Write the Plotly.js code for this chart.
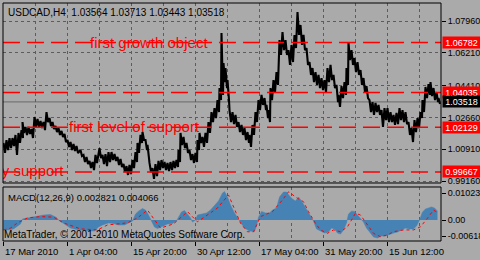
<!DOCTYPE html>
<html><head><meta charset="utf-8">
<script src="https://cdn.plot.ly/plotly-3.0.1.min.js"></script>
<style>html,body{margin:0;padding:0;background:#AAAAAA}#chart{width:480px;height:260px}</style>
</head><body><div id="chart"></div><script>
const symbolTitle = "USDCAD,H4  1.03564 1.03713 1.03443 1.03518";
const macdTitle = "MACD(12,26,9) 0.002821 0.004066";
const copyright = "MetaTrader, \u00A9 2001-2010 MetaQuotes Software Corp.";
const timeTickIdx = [0,64,128,192,256,320,384];
const timeTickLabels = ["17 Mar 2010","1 Apr 04:00","15 Apr 20:00","30 Apr 12:00","17 May 04:00","31 May 20:00","15 Jun 12:00"];
const priceTicks = [1.0796,1.0621,1.0441,1.0266,1.0091,0.9916];
const priceTickLabels = ["1.07960","1.06210","1.04410","1.02660","1.00910","0.99160"];
const levelValues = [1.06782,1.04035,1.02129,0.99667];
const levelLabels = ["1.06782","1.04035","1.02129","0.99667"];
const lastPrice = 1.03518;
const lastPriceLabel = "1.03518";
const macdTicks = [0.01023,0,-0.00618];
const macdTickLabels = ["0.01023","0.00","-0.00618"];

// H4 bars (bar index), high / low
const barIdx = [0,3,6,9,12,15,18,19,22,25,28,31,34,37,40,43,46,49,52,55,58,61,64,67,70,73,77,80,83,86,89,92,96,99,102,105,108,111,114,117,120,123,126,129,132,134,137,139,142,144,146,149,152,155,158,161,164,167,170,173,175,177,180,183,186,189,192,194,196,199,202,205,208,211,214,216,218,220,222,224,226,229,232,235,238,241,244,246,249,252,255,258,261,263,265,267,270,273,276,279,282,285,288,291,294,297,300,303,306,309,312,315,318,321,324,327,330,333,335,338,341,343,345,348,351,354,357,360,363,366,369,372,375,378,381,384,387,390,393,396,399,402,405,408,411,414,417,419,422,425,427,430,433,435];
const priceHigh = [1.0126,1.0142,1.0153,1.0153,1.0170,1.0181,1.0197,1.0241,1.0214,1.0214,
1.0203,1.0269,1.0258,1.0247,1.0241,1.0296,1.0263,1.0241,1.0219,1.0208,
1.0192,1.0175,1.0142,1.0131,1.0120,1.0109,1.0087,1.0060,1.0049,1.0027,
1.0021,1.0060,1.0098,1.0060,1.0065,1.0076,1.0076,1.0065,1.0049,1.0038,
1.0010,0.9999,1.0005,1.0032,1.0076,1.0126,1.0170,1.0186,1.0142,1.0115,
1.0016,0.9988,1.0010,1.0027,1.0032,1.0021,1.0016,1.0021,1.0027,1.0032,
1.0087,1.0181,1.0159,1.0126,1.0087,1.0065,1.0071,1.0142,1.0181,1.0159,
1.0181,1.0241,1.0296,1.0318,1.0362,1.0428,1.0731,1.0566,1.0538,1.0472,
1.0307,1.0296,1.0280,1.0241,1.0225,1.0208,1.0186,1.0170,1.0225,1.0296,
1.0362,1.0390,1.0373,1.0335,1.0307,1.0428,1.0472,1.0516,1.0692,1.0736,
1.0692,1.0637,1.0665,1.0720,1.0846,1.0775,1.0720,1.0648,1.0571,1.0538,
1.0516,1.0500,1.0483,1.0472,1.0538,1.0555,1.0500,1.0445,1.0390,1.0439,
1.0461,1.0538,1.0676,1.0637,1.0593,1.0571,1.0527,1.0483,1.0439,1.0362,
1.0351,1.0346,1.0335,1.0307,1.0318,1.0318,1.0296,1.0280,1.0291,1.0318,
1.0307,1.0296,1.0241,1.0208,1.0252,1.0263,1.0296,1.0362,1.0434,1.0450,
1.0461,1.0428,1.0406,1.0373];
const priceLow = [1.0071,1.0087,1.0098,1.0109,1.0060,1.0126,1.0153,1.0181,1.0170,1.0175,
1.0153,1.0214,1.0214,1.0208,1.0197,1.0241,1.0219,1.0203,1.0186,1.0170,
1.0159,1.0131,1.0104,1.0087,1.0082,1.0071,1.0054,1.0021,1.0010,0.9988,
0.9977,1.0016,1.0043,1.0010,0.9999,1.0021,1.0032,1.0027,1.0005,0.9994,
0.9966,0.9950,0.9955,0.9988,1.0021,1.0071,1.0126,1.0142,1.0087,1.0032,
0.9966,0.9928,0.9944,0.9977,0.9988,0.9977,0.9972,0.9977,0.9988,0.9994,
1.0021,1.0115,1.0098,1.0071,1.0032,1.0016,1.0021,1.0087,1.0126,1.0104,
1.0126,1.0181,1.0241,1.0263,1.0296,1.0362,1.0390,1.0461,1.0428,1.0362,
1.0241,1.0230,1.0214,1.0186,1.0170,1.0142,1.0126,1.0104,1.0170,1.0241,
1.0307,1.0335,1.0307,1.0263,1.0241,1.0362,1.0406,1.0445,1.0610,1.0637,
1.0610,1.0555,1.0571,1.0648,1.0720,1.0665,1.0637,1.0555,1.0500,1.0461,
1.0445,1.0428,1.0417,1.0406,1.0461,1.0472,1.0428,1.0351,1.0324,1.0373,
1.0390,1.0445,1.0582,1.0555,1.0516,1.0500,1.0445,1.0406,1.0373,1.0296,
1.0280,1.0296,1.0280,1.0214,1.0252,1.0241,1.0241,1.0225,1.0230,1.0252,
1.0241,1.0230,1.0170,1.0131,1.0186,1.0208,1.0263,1.0296,1.0373,1.0390,
1.0384,1.0362,1.0351,1.0340];

// MACD histogram and signal line
const macdIdx = [0,5,10,14,17,19,24,30,34,40,47,50,53,55,59,63,67,73,79,85,91,95,99,105,110,115,121,125,129,132,135,139,142,145,148,151,154,159,164,169,173,175,178,181,184,187,189,192,194,198,203,207,211,215,219,221,224,227,231,234,237,241,246,251,253,255,258,262,266,269,273,276,280,283,286,289,292,295,298,301,304,307,310,313,317,321,325,328,331,334,337,340,343,345,348,351,354,357,360,363,366,370,374,378,382,386,390,394,398,402,406,410,413,416,419,422,425,428,431,434];
const macdHist = [-0.0038,-0.0038,-0.0034,-0.0023,-0.0015,0.0004,0.0008,0.0010,0.0015,0.0019,
0.0021,0.0017,0.0010,0,-0.0011,-0.0019,-0.0031,-0.0036,-0.0040,-0.0042,
-0.0042,-0.0027,-0.0019,-0.0011,-0.0013,-0.0019,-0.0019,-0.0011,-0.0004,0.0023,
0.0034,0.0044,0.0038,0.0019,-0.0004,-0.0027,-0.0033,-0.0025,-0.0015,-0.0013,
-0.0004,0.0011,0.0031,0.0036,0.0023,0.0008,-0.0008,0,0.0019,0.0023,
0.0027,0.0038,0.0057,0.0073,0.0103,0.0109,0.0088,0.0057,0.0027,0.0008,
-0.0008,-0.0031,-0.0042,-0.0044,-0.0023,0.0011,0.0033,0.0027,0.0027,0.0038,
0.0046,0.0088,0.0107,0.0107,0.0092,0.0080,0.0073,0.0088,0.0073,0.0054,
0.0034,0.0015,-0.0004,-0.0034,-0.0042,-0.0050,-0.0046,-0.0031,-0.0034,-0.0050,
-0.0054,-0.0038,-0.0011,0.0023,0.0034,0.0033,0.0019,0.0004,-0.0008,-0.0031,
-0.0046,-0.0065,-0.0069,-0.0061,-0.0061,-0.0054,-0.0050,-0.0046,-0.0038,-0.0031,
-0.0034,-0.0034,-0.0023,0,0.0031,0.0042,0.0046,0.0050,0.0046,0.0034];
const signalIdx = [0,7,14,24,37,50,60,77,94,104,124,134,144,157,170,184,194,204,214,225,237,244,250,257,269,279,285,294,300,305,312,317,324,330,337,344,352,357,364,370,377,384,390,400,410,417,424,430,435];
const signalVal = [-0.0038,-0.0031,-0.0011,0.0008,0.0013,0.0011,-0.0011,-0.0034,-0.0038,-0.0019,
-0.0011,0.0008,0.0038,-0.0031,-0.0015,0.0032,-0.0007,0.0019,0.0046,0.0096,
-0.0012,-0.0045,-0.0045,0.0013,0.0032,0.0077,0.0108,0.0083,0.0070,0.0032,
-0.0013,-0.0038,-0.0051,-0.0038,-0.0045,-0.0026,0.0026,0.0019,-0.0019,-0.0051,
-0.0064,-0.0057,-0.0045,-0.0038,-0.0038,-0.0026,0.0007,0.0038,0.0027];

const FONT = "Liberation Sans, Arial, sans-serif";
const BG = "#AAAAAA";
const GRID = "#5C5C5C";
const AX_FS = 9;

// zig-zag between each bar's high and low to mimic the dense bar chart
const zx = [], zy = [];
barIdx.forEach((b, k) => { zx.push(b, b + 1.5); zy.push(priceHigh[k], priceLow[k]); });

const traces = [
  {type:"scatter", mode:"lines", x: zx, y: zy, xaxis:"x", yaxis:"y",
   line:{color:"#000000", width:2.1}, hoverinfo:"skip"},
  {type:"scatter", mode:"text", x:[60], y:[levelValues[3]], text:["y support"], textposition:"middle left",
   cliponaxis:true, xaxis:"x", yaxis:"y", textfont:{family:FONT, size:15, color:"#FF0000"}, hoverinfo:"skip"},
  {type:"scatter", mode:"lines", x: macdIdx, y: macdHist, xaxis:"x", yaxis:"y2", fill:"tozeroy",
   fillcolor:"#4682B4", line:{color:"#4682B4", width:0.5}, hoverinfo:"skip"},
  {type:"scatter", mode:"lines", x: signalIdx, y: signalVal, xaxis:"x", yaxis:"y2",
   line:{color:"#FF0000", width:1, dash:"3px,3px"}, hoverinfo:"skip"}
];

const MAIN_DOM = [0.2437, 1];
const MACD_DOM = [0, 0.2269];

const shapes = [
  {type:"line", xref:"paper", yref:"y", x0:0, x1:1, y0:lastPrice, y1:lastPrice, layer:"below",
   line:{color:"#6A6A6A", width:1}}
];
levelValues.forEach(v => shapes.push({type:"line", xref:"paper", yref:"y", x0:0, x1:1, y0:v, y1:v,
   layer:"above", line:{color:"#FF0000", width:1.5, dash:"17px,7px"}}));
shapes.push({type:"rect", xref:"paper", yref:"paper", x0:0, x1:1, y0:MAIN_DOM[0], y1:MAIN_DOM[1],
   line:{color:"#000000", width:1}, layer:"above"});
shapes.push({type:"rect", xref:"paper", yref:"paper", x0:0, x1:1, y0:MACD_DOM[0], y1:MACD_DOM[1],
   line:{color:"#000000", width:1}, layer:"above"});

const annotations = [
  {xref:"paper", yref:"paper", x:0, y:1, xanchor:"left", yanchor:"top", xshift:3, yshift:-2,
   text:symbolTitle, showarrow:false, font:{family:FONT, size:10, color:"#000000"}},
  {xref:"x", yref:"y", x:84, y:levelValues[0], xanchor:"left", yanchor:"middle",
   text:"first growth object", showarrow:false, font:{family:FONT, size:15, color:"#FF0000"}},
  {xref:"x", yref:"y", x:63, y:levelValues[2], xanchor:"left", yanchor:"middle", yshift:1,
   text:"first level of support", showarrow:false, font:{family:FONT, size:15, color:"#FF0000"}},
  {xref:"paper", yref:"paper", x:0, y:MACD_DOM[1], xanchor:"left", yanchor:"top", xshift:3, yshift:-3,
   text:macdTitle, showarrow:false, font:{family:FONT, size:9.5, color:"#000000"}},
  {xref:"paper", yref:"paper", x:0, y:0, xanchor:"left", yanchor:"bottom", xshift:-1, yshift:-1,
   text:copyright, showarrow:false, font:{family:FONT, size:10, color:"#000000"}}
];
timeTickIdx.forEach((t, i) => annotations.push({xref:"x", yref:"paper", x:t, y:0, xanchor:"left", yanchor:"top",
   xshift:-1, yshift:-3, text:timeTickLabels[i], showarrow:false, font:{family:FONT, size:9.5, color:"#000000"}}));
levelValues.forEach((v, i) => annotations.push({xref:"paper", yref:"y", x:1, y:v, xanchor:"left", yanchor:"middle",
   xshift:1, text:levelLabels[i], showarrow:false, bgcolor:"#FF0000", width:37, height:11, borderpad:0,
   font:{family:FONT, size:AX_FS, color:"#FFFFFF"}}));
annotations.push({xref:"paper", yref:"y", x:1, y:lastPrice, xanchor:"left", yanchor:"middle",
   xshift:1, text:lastPriceLabel, showarrow:false, bgcolor:"#000000", width:37, height:11, borderpad:0,
   font:{family:FONT, size:AX_FS, color:"#FFFFFF"}});

const layout = {
  width:480, height:260, paper_bgcolor:BG, plot_bgcolor:BG, showlegend:false,
  margin:{l:3, r:39, t:3, b:19, pad:0},
  font:{family:FONT, size:9.5, color:"#000000"},
  xaxis:{anchor:"y2", range:[-0.5, 437.5], tickmode:"linear", tick0:0, dtick:64,
    showticklabels:false, ticks:"outside", ticklen:4, tickcolor:"#000000",
    showgrid:true, gridcolor:GRID, griddash:"3px,3px", gridwidth:1, zeroline:false, showline:false,
    minor:{tickmode:"linear", tick0:0, dtick:32, showgrid:true, gridcolor:GRID, griddash:"3px,3px", gridwidth:1}},
  yaxis:{domain:MAIN_DOM, anchor:"x", side:"right", range:[0.99058, 1.08958],
    tickmode:"array", tickvals:priceTicks, ticktext:priceTickLabels, ticks:"outside", ticklen:4, tickcolor:"#000000",
    showgrid:true, gridcolor:GRID, griddash:"3px,3px", gridwidth:1, zeroline:false, showline:false,
    ticklabelstandoff:0, tickfont:{family:FONT, size:AX_FS, color:"#000000"}},
  yaxis2:{domain:MACD_DOM, anchor:"x", side:"right", range:[-0.00804, 0.01264],
    tickmode:"array", tickvals:macdTicks, ticktext:macdTickLabels, ticks:"outside", ticklen:4, tickcolor:"#000000",
    showgrid:false, zeroline:false, showline:false,
    ticklabelstandoff:0, tickfont:{family:FONT, size:AX_FS, color:"#000000"}},
  shapes: shapes,
  annotations: annotations
};

Plotly.newPlot("chart", traces, layout, {staticPlot:true, displayModeBar:false});
</script></body></html>
